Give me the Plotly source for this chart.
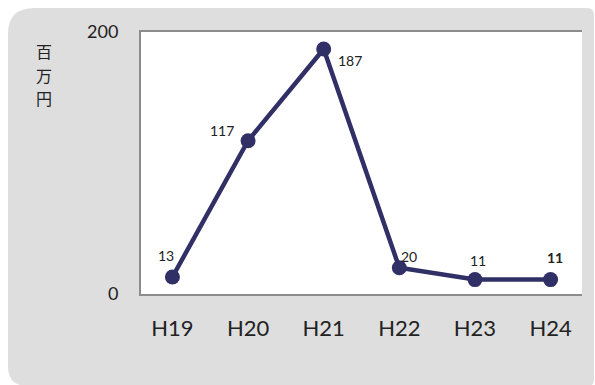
import plotly.graph_objects as go

# Fiscal years and amounts (million yen)
years = ["H19", "H20", "H21", "H22", "H23", "H24"]
amounts = [13, 117, 187, 20, 11, 11]
label_text = ["13", "117", "187", "20", "11", "<b>11</b>"]
# label offsets in pixels relative to each point
label_dx = [-6, -26, 26, 10, 3, 4]
label_dy = [21, 10, -11, 11, 19, 22]
y_ticks = [0, 200]
unit_chars = ["百", "万", "円"]

W, H = 595, 385
L, R, T, B = 141, 13, 32, 91
PW, PH = W - L - R, H - T - B

LINE_COLOR = "#302F66"
FONT = "Lato, 'Noto Sans', sans-serif"


def px(x):
    return (x - L) / PW


def py(y):
    return (H - B - y) / PH


def rounded_box(x0, y0, x1, y1, r_tl, r_tr, r_bl, r_br):
    pts = [
        f"M {px(x0 + r_tl)},{py(y0)}",
        f"L {px(x1 - r_tr)},{py(y0)}",
        f"Q {px(x1)},{py(y0)} {px(x1)},{py(y0 + r_tr)}",
        f"L {px(x1)},{py(y1 - r_br)}",
        f"Q {px(x1)},{py(y1)} {px(x1 - r_br)},{py(y1)}",
        f"L {px(x0 + r_bl)},{py(y1)}",
        f"Q {px(x0)},{py(y1)} {px(x0)},{py(y1 - r_bl)}",
        f"L {px(x0)},{py(y0 + r_tl)}",
        f"Q {px(x0)},{py(y0)} {px(x0 + r_tl)},{py(y0)}",
        "Z",
    ]
    return " ".join(pts)


fig = go.Figure()
fig.add_trace(go.Scatter(
    x=years, y=amounts, mode="lines+markers",
    line=dict(color=LINE_COLOR, width=4.5),
    marker=dict(color=LINE_COLOR, size=15),
    hoverinfo="skip", showlegend=False, cliponaxis=False,
))

for yr, v, t, dx, dy in zip(years, amounts, label_text, label_dx, label_dy):
    fig.add_annotation(
        x=yr, y=v, text=t, showarrow=False,
        xshift=dx, yshift=dy,
        font=dict(family=FONT, size=14, color="#222222"),
    )

# vertical unit label, one character per line
for i, ch in enumerate(unit_chars):
    fig.add_annotation(
        xref="paper", yref="paper", x=px(44), y=py(51 + 23.5 * i),
        xanchor="center", yanchor="middle",
        text=ch, showarrow=False,
        font=dict(family="'Noto Sans CJK JP', sans-serif", size=16, color="#222222"),
    )

# grey rounded panel and white plotting area
fig.add_shape(
    type="path", xref="paper", yref="paper", layer="below",
    path=rounded_box(8, 8, 594, 386, 26, 7, 20, 6),
    fillcolor="#DEDEDE", line=dict(width=0),
)
fig.add_shape(
    type="rect", xref="paper", yref="paper", layer="below",
    x0=0, x1=1, y0=0, y1=1, fillcolor="white", line=dict(width=0),
)

fig.update_layout(
    width=W, height=H,
    margin=dict(l=L, r=R, t=T, b=B),
    paper_bgcolor="white",
    plot_bgcolor="white",
    xaxis=dict(
        type="category", showgrid=False, zeroline=False,
        showline=True, mirror=True, linecolor="#8C8C8C", linewidth=2,
        ticks="", ticklabelstandoff=14,
        tickfont=dict(family=FONT, size=22, color="#222222"),
    ),
    yaxis=dict(
        range=[0, 200], tickvals=y_ticks, showgrid=False, zeroline=False,
        showline=True, linecolor="#8C8C8C", linewidth=2,
        ticks="", ticklabelstandoff=17,
        tickfont=dict(family=FONT, size=18, color="#222222"),
    ),
)

fig.write_html("out.html")
